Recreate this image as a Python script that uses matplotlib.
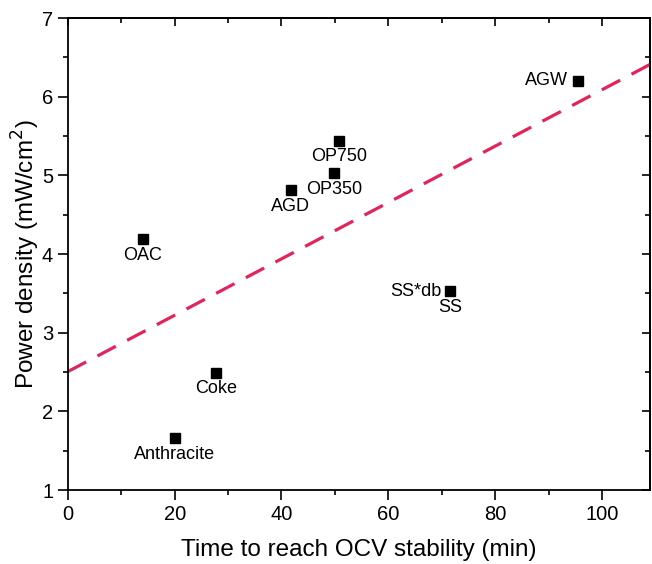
import numpy as np
import matplotlib
matplotlib.use("Agg")
import matplotlib.pyplot as plt
from matplotlib.ticker import MultipleLocator

plt.rcParams['font.family'] = ['Liberation Sans', 'DejaVu Sans']

labels = ["OAC", "Anthracite", "Coke", "AGD", "OP350", "OP750", "SS", "AGW"]
time_min = [14.0, 20.0, 27.8, 41.7, 49.9, 50.8, 71.6, 95.5]
power = [4.19, 1.66, 2.49, 4.81, 5.03, 5.44, 3.53, 6.20]
extra_label = "SS*db"

fig = plt.figure(figsize=(6.52, 5.64), dpi=100)
ax = fig.add_axes([0.104, 0.131, 0.893, 0.837])

x = np.array(time_min)
y = np.array(power)
slope, intercept = np.polyfit(x, y, 1)
xl = np.array([0, 109])
ax.plot(xl, intercept + slope * xl, color='#E3245A', lw=2.3,
        dashes=(6.5, 4), zorder=1)

ax.plot(x, y, 's', color='black', markersize=7, zorder=3)

for lab, xi, yi in zip(labels, time_min, power):
    if lab == "AGW":
        ax.annotate(lab, (xi, yi), xytext=(-7, 0), textcoords='offset points',
                    ha='right', va='center', fontsize=13)
    else:
        ax.annotate(lab, (xi, yi), xytext=(0, -11.5), textcoords='offset points',
                    ha='center', va='center', fontsize=13)
ax.annotate(extra_label, (time_min[6], power[6]), xytext=(-6, 0),
            textcoords='offset points', ha='right', va='center', fontsize=13)

ax.set_xlim(0, 109)
ax.set_ylim(1, 7)
ax.xaxis.set_major_locator(MultipleLocator(20))
ax.xaxis.set_minor_locator(MultipleLocator(10))
ax.yaxis.set_major_locator(MultipleLocator(1))
ax.yaxis.set_minor_locator(MultipleLocator(0.5))

ax.tick_params(which='both', direction='out', width=1.2, labelsize=14.5,
               top=False, right=False)
ax.tick_params(which='major', length=7)
ax.tick_params(which='minor', length=3.5)

# inward ticks on top and right
secx = ax.secondary_xaxis('top')
secx.xaxis.set_major_locator(MultipleLocator(20))
secx.xaxis.set_minor_locator(MultipleLocator(10))
secx.tick_params(which='both', direction='in', labeltop=False, width=1.2)
secx.tick_params(which='major', length=6)
secx.tick_params(which='minor', length=3.5)
secy = ax.secondary_yaxis('right')
secy.yaxis.set_major_locator(MultipleLocator(1))
secy.yaxis.set_minor_locator(MultipleLocator(0.5))
secy.tick_params(which='both', direction='in', labelright=False, width=1.2)
secy.tick_params(which='major', length=6)
secy.tick_params(which='minor', length=3.5)
for s in list(ax.spines.values()) + [secx.spines['top'], secy.spines['right']]:
    s.set_linewidth(1.3)

ax.set_xlabel("Time to reach OCV stability (min)", fontsize=17.5, labelpad=11)
ax.set_ylabel("Power density (mW/cm$^2$)", fontsize=17.5, labelpad=0)

fig.savefig("out.png", dpi=100)
